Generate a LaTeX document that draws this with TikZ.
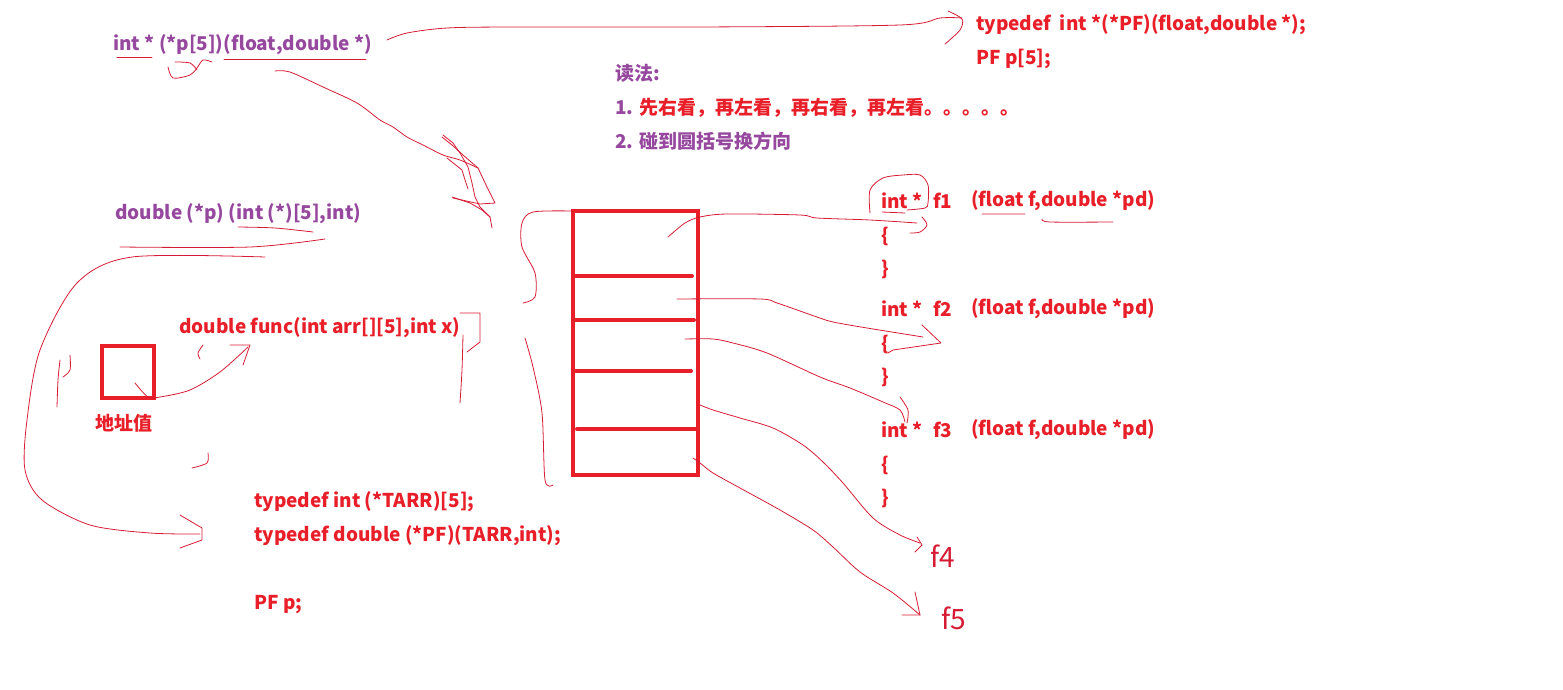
\documentclass[tikz,border=0pt]{standalone}
\usepackage{fontspec}
\setmainfont{Noto Sans CJK SC}
\definecolor{purp}{RGB}{150,72,158}
\definecolor{hred}{RGB}{232,30,40}
\definecolor{pen}{RGB}{214,28,52}
\begin{document}
\begin{tikzpicture}[x=1pt, y=-1pt,
  code/.style={anchor=west, inner sep=0pt, font=\fontsize{19}{22}\selectfont\bfseries},
  pcode/.style={code, text=purp},
  rcode/.style={code, text=hred},
  ink/.style={pen, line width=0.8pt, line join=round, line cap=round},
  cell/.style={draw=hred, line width=4pt, inner sep=0pt}]
\useasboundingbox (0,0) rectangle (1563,690);

\node[pcode] (decl) at (113,45) {int * (*p[5])(float,double *)};
\node[rcode] (tdef) at (976,25) {typedef\ \ int *(*PF)(float,double *);};
\node[rcode] (pfarr) at (976,59) {PF p[5];};
\node[pcode] (howto) at (615,73) {读法:};
\node[rcode] (rule1) at (615,108) {{\color{purp}1.} 先右看，再左看，再右看，再左看。。。。。};
\node[pcode] (rule2) at (615,141) {2. 碰到圆括号换方向};
\node[pcode] (decl2) at (115,214) {double (*p) (int (*)[5],int)};
\node[rcode] (func) at (179,328) {double func(int arr[][5],int x)};
\node[rcode] (addrtxt) at (95,423) {地址值};
\node[rcode] (tarr) at (254,502) {typedef int (*TARR)[5];};
\node[rcode] (tpf) at (254,536) {typedef double (*PF)(TARR,int);};
\node[rcode] (pfp) at (254,605) {PF p;};

\foreach \i/\y in {1/201, 2/309, 3/430} {
  \node[rcode] (ret\i) at (881,\y) {int *};
  \node[rcode] (f\i) at (933,\y) {f\i};
  \node[rcode] (arg\i) at (971,\y) {(float f,double *pd)};
  \node[rcode] (lb\i) at (881,\y+35) {\{};
  \node[rcode] (rb\i) at (881,\y+68) {\}};
}
\node[text=pen, font=\fontsize{28}{28}\selectfont] (f4) at (943,556) {f4};
\node[text=pen, font=\fontsize{28}{28}\selectfont] (f5) at (954,618) {f5};

\node[cell, minimum width=125pt, minimum height=264pt] (arr) at (635.5,343) {};
\foreach \y/\xa/\xb in {276/575/692, 320/575/694, 371/575/691, 429/577/698}
  \draw[hred, line width=4pt, line cap=round] (\xa,\y) -- (\xb,\y);
\node[cell, minimum size=52pt] (addr) at (128,372) {};

\draw[ink] plot[smooth] coordinates {(387,40) (407,33) (447,28) (513,27) (700,27) (900,25) (940,18) (962,18)};
\draw[ink] plot[smooth] coordinates {(948,11) (962,19) (960,30) (945,44)};
\draw[ink] (117,57) -- (152,57) (224,59) -- (366,59);
\draw[ink] plot[smooth] coordinates {(168,67) (173,78) (190,75) (197,68) (203,60) (212,62)};
\draw[ink] plot[smooth] coordinates {(175,62) (190,63) (197,70)};

\draw[ink] plot[smooth] coordinates {(275,71) (290,72) (323,87) (357,103) (380,120) (393,127) (407,137) (423,145) (443,155) (460,160) (478,168)};
\draw[ink] plot coordinates {(443,135) (453,143) (460,153) (468,167) (472,183) (475,197) (480,207) (490,217) (492,228)};
\draw[ink] plot coordinates {(442,137) (452,145) (463,155) (478,168) (487,187) (495,203) (480,204) (453,198)};
\draw[ink] plot coordinates {(447,158) (462,170) (465,180) (468,189)};
\draw[ink] plot coordinates {(452,197) (470,203) (482,210) (490,217)};

\draw[ink] plot[smooth] coordinates {(238,227) (275,228) (313,232)};
\draw[ink] plot[smooth] coordinates {(120,247) (250,247) (325,239)};
\draw[ink] plot[smooth] coordinates {(265,257) (132,257) (77,283) (40,350) (27,420) (25,470) (42,500) (90,525) (150,533) (200,534)};
\draw[ink] plot coordinates {(180,515) (202,528) (202,540) (180,548)};
\draw[ink] plot[smooth] coordinates {(57,407) (58,380) (60,360)};
\draw[ink] plot[smooth] coordinates {(70,355) (70,370) (63,377)};
\draw[ink] plot[smooth] coordinates {(135,383) (148,397) (160,397) (190,390) (220,372) (248,347)};
\draw[ink] plot coordinates {(230,345) (250,345) (243,365)};
\draw[ink] plot[smooth] coordinates {(203,345) (198,353) (200,359)};
\draw[ink] plot coordinates {(460,313) (480,313) (480,342) (467,352)};
\draw[ink] plot[smooth] coordinates {(463,335) (462,370) (460,403)};
\draw[ink] plot[smooth] coordinates {(208,453) (207,463) (192,468)};

\draw[ink] plot[smooth] coordinates {(572,211) (533,212) (522,223) (522,247) (535,273) (535,297) (523,303)};
\draw[ink] plot[smooth] coordinates {(525,338) (533,367) (542,413) (545,480) (553,485)};

\draw[ink] plot[smooth] coordinates {(668,237) (685,223) (700,217) (727,214) (800,215) (817,218) (870,220) (917,223)};
\draw[ink] plot[smooth] coordinates {(922,217) (927,225) (920,232) (910,233)};
\draw[ink] plot[smooth] coordinates {(870,213) (870,190) (883,178) (903,175) (920,175) (928,185) (928,203) (925,208) (907,210)};
\draw[ink] (882,212) -- (905,213) (982,214) -- (1025,214);
\draw[ink] plot[smooth] coordinates {(1042,219) (1050,222) (1113,222)};

\draw[ink] plot[smooth] coordinates {(677,299) (760,299) (777,303) (817,317) (833,322) (867,328) (923,337)};
\draw[ink] plot coordinates {(922,325) (941,343) (893,350) (888,353)};
\draw[ink] plot[smooth] coordinates {(685,339) (713,339) (733,343) (767,353) (820,377) (850,388) (883,402) (900,410) (905,422)};
\draw[ink] plot[smooth] coordinates {(900,397) (908,410) (907,423)};
\draw[ink] plot[smooth] coordinates {(700,405) (713,410) (740,418) (773,428) (803,445) (823,462) (843,483) (873,518) (900,535) (920,543)};
\draw[ink] plot coordinates {(917,537) (922,545) (915,552)};
\draw[ink] plot[smooth] coordinates {(693,458) (700,463) (713,473) (740,488) (780,510) (813,530) (833,547) (860,572) (893,593) (920,615)};
\draw[ink] plot coordinates {(915,592) (920,615) (902,615)};
\end{tikzpicture}
\end{document}
